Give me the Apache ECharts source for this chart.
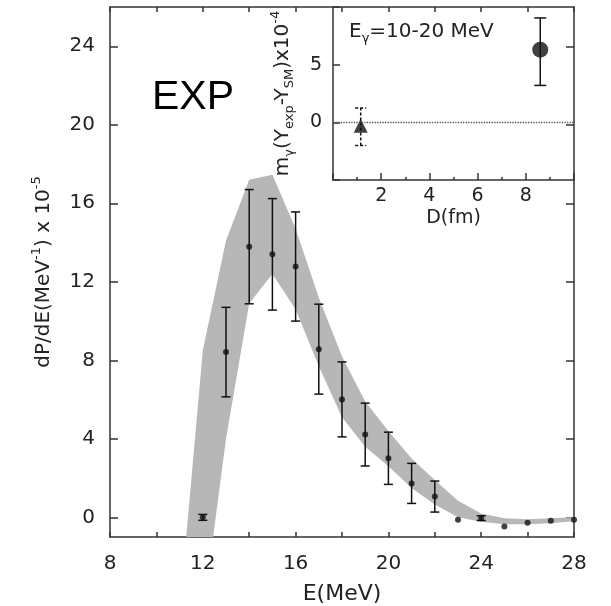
<!DOCTYPE html>
<html>
<head>
<meta charset="utf-8">
<script src="https://cdn.jsdelivr.net/npm/echarts@6/dist/echarts.min.js"></script>
<style>html,body{margin:0;padding:0;background:#fff}#c{width:611px;height:606px}</style>
</head>
<body>
<div id="c"></div>
<script>
// ---- main panel data ----
const energies = [12, 13, 14, 15, 16, 17, 18, 19, 20, 21, 22, 23, 24, 25, 26, 27, 28];
const values   = [0.0, 8.42, 13.79, 13.40, 12.78, 8.57, 6.01, 4.22, 3.01, 1.73, 1.06, -0.12, -0.04, -0.46, -0.27, -0.17, -0.12];
const errors   = [0.15, 2.28, 2.91, 2.84, 2.78, 2.29, 1.91, 1.60, 1.33, 1.02, 0.79, 0, 0.12, 0, 0, 0, 0];

// theory band (upper / lower bounds)
const bandE     = [11, 12, 13, 14, 15, 16, 17, 18, 19, 20, 21, 22, 23, 24, 25, 26, 27, 28];
const bandUpper = [-4.8, 8.5, 14.1, 17.2, 17.45, 14.7, 11.2, 8.2, 5.9, 4.4, 3.0, 1.9, 0.85, 0.2, -0.05, -0.1, -0.05, 0.0];
const bandLower = [-14, -5.0, 4.0, 10.9, 12.4, 10.6, 7.7, 5.1, 3.6, 2.6, 1.5, 0.65, 0.0, -0.22, -0.35, -0.35, -0.3, -0.2];

const xTickLabels = [8, 12, 16, 20, 24, 28];
const yTickLabels = [0, 4, 8, 12, 16, 20, 24];

// ---- inset data ----
const insetD    = [1.15, 8.6];
const insetY    = [-0.3, 6.3];
const insetLow  = [-2.0, 3.2];
const insetHigh = [1.25, 9.05];
const insetXLabels = [2, 4, 6, 8];
const insetYLabels = [0, 5];

const FONT = 'DejaVu Sans';
const AX = '#333';
const TXT = '#222';

const bandData = bandE.map((e, i) => [e, bandLower[i], bandUpper[i]]);
const errData = energies.map((e, i) => [e, values[i] - errors[i], values[i] + errors[i], errors[i]]);
const dotData = energies.map((e, i) => [e, values[i]]);

function errRender(capHalf, dash) {
  return function (params, api) {
    if (api.value(3) === 0) return null;
    const x = api.value(0);
    const p1 = api.coord([x, api.value(1)]);
    const p2 = api.coord([x, api.value(2)]);
    const st = { stroke: '#111', lineWidth: 1.5, lineDash: dash || null };
    return {
      type: 'group',
      children: [
        { type: 'line', shape: { x1: p1[0], y1: p1[1], x2: p2[0], y2: p2[1] }, style: st },
        { type: 'line', shape: { x1: p1[0] - capHalf, y1: p1[1], x2: p1[0] + capHalf, y2: p1[1] }, style: st },
        { type: 'line', shape: { x1: p2[0] - capHalf, y1: p2[1], x2: p2[0] + capHalf, y2: p2[1] }, style: st }
      ]
    };
  };
}

function bandRender(params, api) {
  if (params.dataIndex !== 0) return null;
  const pts = [];
  for (let i = 0; i < bandE.length; i++) pts.push(api.coord([bandE[i], bandUpper[i]]));
  for (let i = bandE.length - 1; i >= 0; i--) pts.push(api.coord([bandE[i], bandLower[i]]));
  const cs = params.coordSys;
  return {
    type: 'group',
    clipPath: { type: 'rect', shape: { x: cs.x, y: cs.y, width: cs.width, height: cs.height } },
    children: [{ type: 'polygon', shape: { points: pts }, style: { fill: '#b7b7b7', stroke: null } }]
  };
}

const axisLine = { show: true, onZero: false, lineStyle: { color: AX, width: 1.5 } };
const tickStyle = { color: AX, width: 1.5 };

const chart = echarts.init(document.getElementById('c'), null, { renderer: 'canvas' });
chart.setOption({
  animation: false,
  backgroundColor: '#fff',
  grid: [
    { left: 110, top: 7, width: 464, height: 530, outerBoundsMode: 'none', containLabel: false },
    { left: 333, top: 7, width: 241, height: 173, outerBoundsMode: 'none', containLabel: false }
  ],
  xAxis: [
    {
      gridIndex: 0, type: 'value', min: 8, max: 28, interval: 2, position: 'bottom',
      axisLine: axisLine,
      axisTick: { inside: true, length: 5, lineStyle: tickStyle },
      axisLabel: { customValues: xTickLabels, fontSize: 20, fontFamily: FONT, color: TXT, margin: 17 },
      splitLine: { show: false },
      name: 'E(MeV)', nameLocation: 'middle', nameGap: 46,
      nameTextStyle: { fontSize: 22, fontFamily: FONT, color: TXT }
    },
    {
      gridIndex: 0, type: 'value', min: 8, max: 28, interval: 2, position: 'top',
      axisLine: axisLine,
      axisTick: { inside: true, length: 5, lineStyle: tickStyle },
      axisLabel: { show: false }, splitLine: { show: false }
    },
    {
      gridIndex: 1, type: 'value', min: 0, max: 10, interval: 2, position: 'bottom',
      axisLine: axisLine,
      axisTick: { inside: true, length: 7, lineStyle: tickStyle },
      minorTick: { show: true, splitNumber: 2, length: 3, lineStyle: tickStyle },
      axisLabel: { customValues: insetXLabels, fontSize: 19, fontFamily: FONT, color: TXT, margin: 7 },
      splitLine: { show: false }, minorSplitLine: { show: false },
      name: 'D(fm)', nameLocation: 'middle', nameGap: 29,
      nameTextStyle: { fontSize: 19, fontFamily: FONT, color: TXT }
    }
  ],
  yAxis: [
    {
      gridIndex: 0, type: 'value', min: -1, max: 26, position: 'left',
      axisLine: axisLine,
      axisTick: { customValues: yTickLabels, inside: true, length: 8, lineStyle: tickStyle },
      axisLabel: { customValues: yTickLabels, fontSize: 20, fontFamily: FONT, color: TXT, margin: 15 },
      splitLine: { show: false },
      name: '{b|dP/dE(MeV}{sup|-1}{b|) x 10}{sup|-5}',
      nameLocation: 'middle', nameRotate: 90, nameGap: 52,
      nameTextStyle: {
        fontFamily: FONT, color: TXT,
        rich: {
          b: { fontSize: 20, lineHeight: 28, verticalAlign: 'middle', fontFamily: FONT, color: TXT },
          sup: { fontSize: 13, lineHeight: 13, verticalAlign: 'top', fontFamily: FONT, color: TXT }
        }
      }
    },
    {
      gridIndex: 0, type: 'value', min: -1, max: 26, position: 'right',
      axisLine: axisLine,
      axisTick: { customValues: yTickLabels, inside: true, length: 8, lineStyle: tickStyle },
      axisLabel: { show: false }, splitLine: { show: false }
    },
    {
      gridIndex: 1, type: 'value', min: -5, max: 10, interval: 5, position: 'left',
      axisLine: axisLine,
      axisTick: { inside: true, length: 7, lineStyle: tickStyle },
      axisLabel: { customValues: insetYLabels, fontSize: 19, fontFamily: FONT, color: TXT, margin: 11 },
      splitLine: { show: false },
      name: '{b|m}{sub|γ}{b|(Y}{sub|exp}{b|-Y}{sub|SM}{b|)x10}{sup|-4}',
      nameLocation: 'middle', nameRotate: 90, nameGap: 37,
      nameTextStyle: {
        fontFamily: FONT, color: TXT,
        rich: {
          b: { fontSize: 20, lineHeight: 27, verticalAlign: 'middle', fontFamily: FONT, color: TXT },
          sup: { fontSize: 13, lineHeight: 13, verticalAlign: 'top', fontFamily: FONT, color: TXT },
          sub: { fontSize: 13, lineHeight: 13, verticalAlign: 'bottom', fontFamily: FONT, color: TXT }
        }
      }
    }
  ],
  graphic: [
    {
      type: 'text', x: 152, y: 98, z: 100,
      style: { text: 'EXP', font: '41px "Liberation Sans"', fill: '#000', align: 'left', verticalAlign: 'middle' }
    },
    {
      type: 'text', x: 349, y: 32, z: 100,
      style: {
        text: '{b|E}{sub|γ}{b|=10-20 MeV}', align: 'left', verticalAlign: 'middle',
        rich: {
          b: { fontSize: 20, lineHeight: 26, verticalAlign: 'middle', fontFamily: FONT, fill: TXT },
          sub: { fontSize: 13, lineHeight: 13, verticalAlign: 'bottom', fontFamily: FONT, fill: TXT }
        }
      }
    }
  ],
  series: [
    {
      type: 'custom', xAxisIndex: 0, yAxisIndex: 0, data: bandData, clip: true, silent: true,
      encode: { x: 0, y: [1, 2] }, renderItem: bandRender, z: 1
    },
    {
      type: 'custom', xAxisIndex: 0, yAxisIndex: 0, data: errData,
      encode: { x: 0, y: [1, 2] }, renderItem: errRender(4.5), z: 3
    },
    {
      type: 'scatter', xAxisIndex: 0, yAxisIndex: 0, data: dotData,
      symbol: 'circle', symbolSize: 6, itemStyle: { color: '#111' }, z: 4
    },
    {
      type: 'custom', xAxisIndex: 2, yAxisIndex: 2,
      data: [[insetD[0], insetLow[0], insetHigh[0], 1]],
      encode: { x: 0, y: [1, 2] }, renderItem: errRender(5.5, [3, 2]), z: 3
    },
    {
      type: 'custom', xAxisIndex: 2, yAxisIndex: 2,
      data: [[insetD[1], insetLow[1], insetHigh[1], 1]],
      encode: { x: 0, y: [1, 2] }, renderItem: errRender(6), z: 3
    },
    {
      type: 'scatter', xAxisIndex: 2, yAxisIndex: 2,
      data: [[insetD[0], insetY[0]]],
      symbol: 'triangle', symbolSize: 14, itemStyle: { color: '#111' }, z: 4,
      markLine: {
        silent: true, symbol: 'none', label: { show: false },
        lineStyle: { color: '#555', type: 'dotted', width: 1.3 },
        data: [{ yAxis: 0 }]
      }
    },
    {
      type: 'scatter', xAxisIndex: 2, yAxisIndex: 2,
      data: [[insetD[1], insetY[1]]],
      symbol: 'circle', symbolSize: 16, itemStyle: { color: '#111' }, z: 4
    }
  ]
});
</script>
</body>
</html>
